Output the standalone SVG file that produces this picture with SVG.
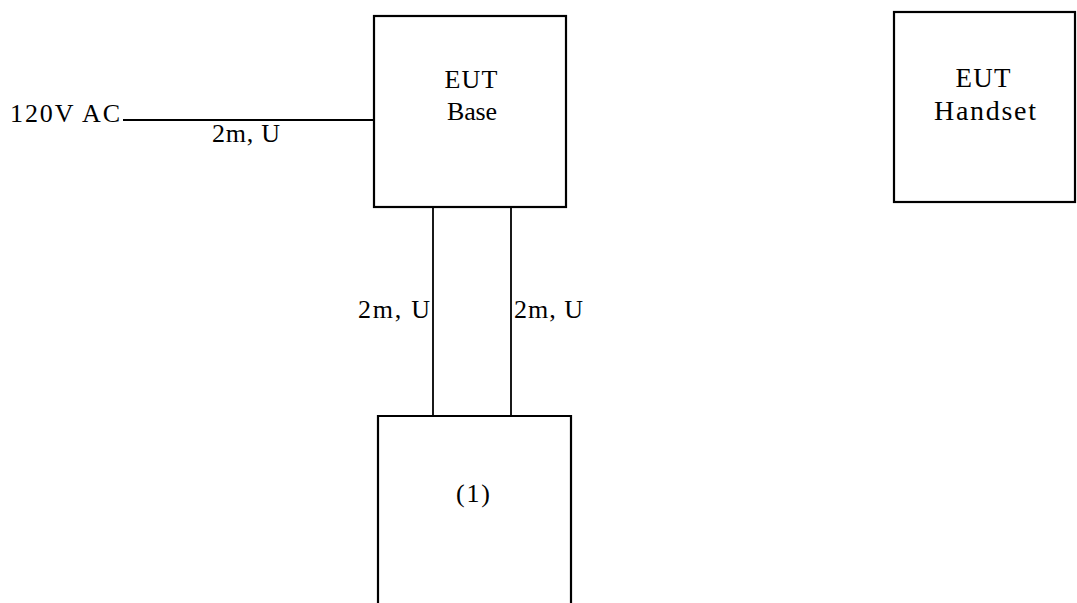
<svg xmlns="http://www.w3.org/2000/svg" width="1077" height="603" viewBox="0 0 1077 603">
  <style>
    .box { fill: none; stroke: #000; stroke-width: 2.2; }
    .wire { fill: none; stroke: #000; stroke-width: 1.8; }
    text { font-family: "Liberation Serif", "Times New Roman", serif; fill: #000; }
    .lbl { font-size: 26px; }
    .name { font-size: 26px; text-anchor: middle; }
  </style>
  <rect width="1077" height="603" fill="#fff"/>

  <!-- cables -->
  <g id="connectors">
    <line class="wire" x1="123" y1="120" x2="374" y2="120"/>
    <line class="wire" x1="433" y1="207" x2="433" y2="416"/>
    <line class="wire" x1="511" y1="207" x2="511" y2="416"/>
    <text class="lbl" x="10" y="122" textLength="110" lengthAdjust="spacing">120V AC</text>
    <text class="lbl" x="212" y="142" textLength="68" lengthAdjust="spacing">2m, U</text>
    <text class="lbl" x="358" y="318" textLength="72" lengthAdjust="spacing">2m, U</text>
    <text class="lbl" x="514" y="318" textLength="69" lengthAdjust="spacing">2m, U</text>
  </g>

  <g id="eut-base">
    <rect class="box" x="374" y="16" width="192" height="191"/>
    <text class="name" x="471" y="88" textLength="53" lengthAdjust="spacing">EUT</text>
    <text class="name" x="472" y="120" textLength="50" lengthAdjust="spacing">Base</text>
  </g>

  <g id="eut-handset">
    <rect class="box" x="894" y="12" width="181" height="190"/>
    <text class="name" x="983" y="87" style="font-size:27px" textLength="55" lengthAdjust="spacing">EUT</text>
    <text class="name" x="985" y="120" style="font-size:28px" textLength="102" lengthAdjust="spacing">Handset</text>
  </g>

  <g id="unit-1">
    <polyline class="box" points="378,603 378,416 571,416 571,603"/>
    <text class="name" x="473" y="502" textLength="34" lengthAdjust="spacing">(1)</text>
  </g>
</svg>
